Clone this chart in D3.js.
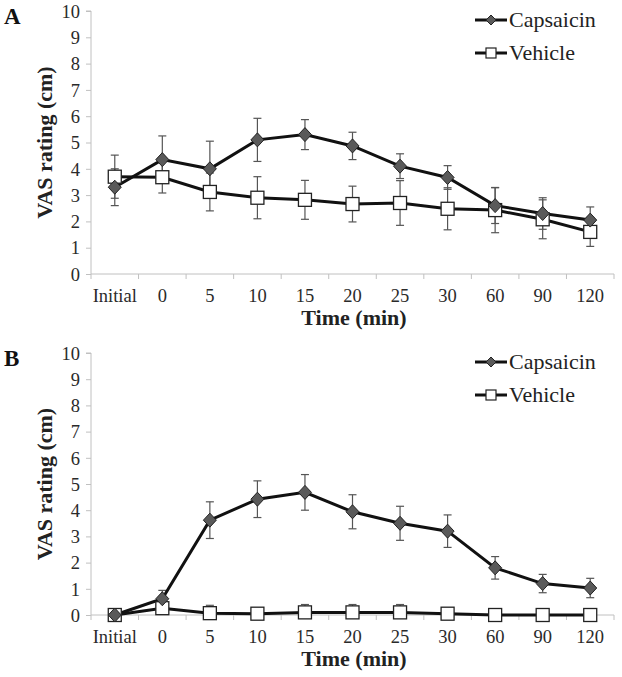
<!DOCTYPE html>
<html><head><meta charset="utf-8">
<script src="https://cdn.jsdelivr.net/npm/d3@7"></script>
<style>body{margin:0;background:#fff}svg{display:block}svg text{font-family:"Liberation Serif","Times New Roman","DejaVu Serif",serif}</style>
</head><body>
<svg id="c" width="622" height="677"></svg>
<script>
const categories = ["Initial","0","5","10","15","20","25","30","60","90","120"];
const yTicks = [0,1,2,3,4,5,6,7,8,9,10];
const seriesNames = ["Capsaicin","Vehicle"];
// Panel A
const capA = [3.3,4.35,4.0,5.1,5.3,4.87,4.1,3.67,2.6,2.3,2.05];
const capAErr = [0.7,0.9,1.05,0.82,0.57,0.52,0.47,0.45,0.68,0.6,0.5];
const vehA = [3.7,3.68,3.12,2.9,2.82,2.66,2.7,2.48,2.43,2.08,1.6];
const vehAErr = [0.82,0.6,0.72,0.8,0.74,0.68,0.85,0.8,0.86,0.74,0.55];
// Panel B
const capB = [0,0.62,3.62,4.42,4.68,3.94,3.5,3.2,1.8,1.2,1.03];
const capBErr = [0,0.32,0.7,0.7,0.68,0.65,0.65,0.62,0.43,0.35,0.37];
const vehB = [0,0.26,0.07,0.05,0.1,0.1,0.1,0.05,0,0,0];
const vehBErr = [0,0.1,0.3,0.05,0.3,0.3,0.3,0.1,0,0,0];

const svg = d3.select("#c");

function panel(opts){
  const g = svg.append("g");
  const x = d3.scaleBand().domain(categories).range([91,614]);
  const y = d3.scaleLinear().domain([0,10]).range([opts.y0, opts.y10]);
  const ya = d3.axisLeft(y).tickValues(yTicks).tickSize(5).tickPadding(6);
  const yg = g.append("g").attr("transform","translate(91,0)").call(ya).attr("font-family",null);
  yg.select(".domain").attr("stroke","#c0c0c0").attr("d",`M-5,${y(10)}H0V${y(0)}`);
  yg.selectAll(".tick line").attr("stroke","#c0c0c0");
  yg.selectAll(".tick text").attr("font-size",18.5).attr("fill","#2a2a2a").attr("dy","0.34em");
  g.append("line").attr("x1",91).attr("x2",614).attr("y1",y(0)).attr("y2",y(0)).attr("stroke","#c0c0c0");
  const bounds = categories.map(c=>x(c)).concat([x.range()[1]]);
  g.selectAll("line.xt").data(bounds).join("line").attr("class","xt")
    .attr("x1",d=>d).attr("x2",d=>d).attr("y1",y(0)).attr("y2",y(0)+5).attr("stroke","#c0c0c0");
  g.selectAll("text.xl").data(categories).join("text").attr("class","xl")
    .attr("x",d=>x(d)+x.bandwidth()/2).attr("y",y(0)+28)
    .attr("text-anchor","middle").attr("font-size",18.5).attr("fill","#2a2a2a").text(d=>d);
  g.append("text").attr("x",354).attr("y",y(0)+51).attr("text-anchor","middle")
    .attr("font-weight","bold").attr("font-size",22).attr("fill","#222").text("Time (min)");
  g.append("text").attr("transform",`translate(52,${(y(0)+y(10))/2}) rotate(-90)`).attr("text-anchor","middle")
    .attr("font-weight","bold").attr("font-size",22).attr("fill","#222").text("VAS rating (cm)");
  g.append("text").attr("x",4).attr("y",y(10)+13).attr("font-weight","bold")
    .attr("font-size",23).attr("fill","#111").text(opts.letter);
  const cx = c=>x(c)+x.bandwidth()/2;
  const sets = [
    {vals:opts.cap, err:opts.capErr, type:"d"},
    {vals:opts.veh, err:opts.vehErr, type:"s"}
  ];
  sets.forEach(s=>{
    const eg = g.append("g").attr("stroke","#555").attr("stroke-width",1.2);
    categories.forEach((c,i)=>{
      if(!s.err[i]) return;
      const x0 = cx(c), y1 = y(s.vals[i]+s.err[i]), y2 = y(Math.max(0,s.vals[i]-s.err[i]));
      eg.append("line").attr("x1",x0).attr("x2",x0).attr("y1",y1).attr("y2",y2);
      eg.append("line").attr("x1",x0-4).attr("x2",x0+4).attr("y1",y1).attr("y2",y1);
      eg.append("line").attr("x1",x0-4).attr("x2",x0+4).attr("y1",y2).attr("y2",y2);
    });
  });
  const line = d3.line().x((d,i)=>cx(categories[i])).y(d=>y(d));
  sets.slice().reverse().forEach(s=>{
    g.append("path").attr("d",line(s.vals)).attr("fill","none").attr("stroke","#111").attr("stroke-width",3);
  });
  sets.slice().reverse().forEach(s=>{
    categories.forEach((c,i)=>{
      const px = cx(c), py = y(s.vals[i]);
      if(s.type==="s"){
        g.append("rect").attr("x",px-6.5).attr("y",py-6.5).attr("width",13).attr("height",13)
          .attr("fill","#fff").attr("stroke","#222").attr("stroke-width",1.3);
      } else {
        g.append("path").attr("d",`M${px},${py-7}L${px+6.5},${py}L${px},${py+7}L${px-6.5},${py}Z`)
          .attr("fill","#5a5a5a").attr("stroke","#222").attr("stroke-width",1);
      }
    });
  });
  const ly = [opts.y10+9, opts.y10+42];
  seriesNames.forEach((n,k)=>{
    g.append("line").attr("x1",475).attr("x2",507).attr("y1",ly[k]).attr("y2",ly[k]).attr("stroke","#111").attr("stroke-width",3);
    if(k===0){
      g.append("path").attr("d",`M491,${ly[k]-5}L496,${ly[k]}L491,${ly[k]+5}L486,${ly[k]}Z`).attr("fill","#5a5a5a").attr("stroke","#222");
    } else {
      g.append("rect").attr("x",486).attr("y",ly[k]-5).attr("width",10).attr("height",10).attr("fill","#fff").attr("stroke","#222").attr("stroke-width",1.2);
    }
    g.append("text").attr("x",509).attr("y",ly[k]+7).attr("font-size",22).attr("fill","#222").text(n);
  });
}
panel({letter:"A", y0:274, y10:11, cap:capA, capErr:capAErr, veh:vehA, vehErr:vehAErr});
panel({letter:"B", y0:615, y10:353, cap:capB, capErr:capBErr, veh:vehB, vehErr:vehBErr});
</script>
</body></html>
